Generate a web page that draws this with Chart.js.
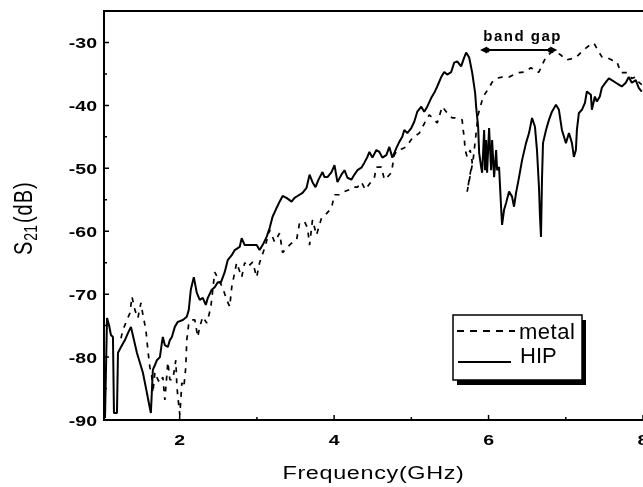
<!DOCTYPE html>
<html>
<head>
<meta charset="utf-8">
<script src="https://cdn.jsdelivr.net/npm/chart.js@4.4.1/dist/chart.umd.min.js"></script>
<style>
  html, body { margin: 0; padding: 0; background: #fff; }
</style>
</head>
<body>
<canvas id="s21Chart" width="643" height="487"></canvas>
<script>
// HIP (solid) S21 trace, GHz / dB
const hipFreq = [1.033,1.059,1.085,1.110,1.136,1.149,1.188,1.201,1.240,1.291,
  1.330,1.369,1.408,1.446,1.485,1.524,1.550,1.576,1.601,1.627,
  1.653,1.679,1.705,1.744,1.769,1.782,1.808,1.847,1.873,1.899,
  1.937,1.976,2.041,2.092,2.118,2.144,2.183,2.222,2.260,2.299,
  2.338,2.364,2.415,2.454,2.493,2.532,2.583,2.622,2.674,2.713,
  2.777,2.803,2.842,2.906,2.997,3.035,3.074,3.126,3.165,3.203,
  3.255,3.294,3.333,3.384,3.449,3.488,3.526,3.591,3.643,3.682,
  3.720,3.759,3.798,3.850,3.875,3.914,3.966,4.005,4.043,4.095,
  4.134,4.173,4.224,4.263,4.302,4.353,4.392,4.431,4.457,4.496,
  4.547,4.586,4.625,4.676,4.715,4.754,4.806,4.844,4.883,4.909,
  4.948,4.999,5.038,5.077,5.129,5.167,5.206,5.258,5.297,5.335,
  5.387,5.426,5.464,5.516,5.555,5.594,5.645,5.684,5.710,5.749,
  5.788,5.826,5.839,5.865,5.878,5.904,5.917,5.943,5.955,5.968,
  5.981,6.007,6.033,6.046,6.072,6.098,6.111,6.136,6.162,6.175,
  6.201,6.227,6.266,6.304,6.330,6.356,6.395,6.434,6.485,6.524,
  6.563,6.601,6.627,6.653,6.666,6.679,6.692,6.705,6.744,6.782,
  6.821,6.873,6.911,6.950,7.002,7.041,7.080,7.105,7.131,7.144,
  7.170,7.209,7.248,7.273,7.325,7.338,7.377,7.403,7.441,7.467,
  7.519,7.558,7.596,7.648,7.687,7.725,7.777,7.816,7.855,7.906,
  7.945,7.984];
const hipS21 = [-89.7,-73.8,-74.9,-76.5,-76.8,-88.9,-88.9,-79.3,-78.4,-77.3,
  -76.2,-75.2,-77.3,-79.3,-80.9,-82.5,-84.1,-85.7,-87.3,-88.9,
  -82.0,-81.3,-80.5,-80.0,-77.8,-76.8,-78.1,-78.4,-77.3,-76.8,
  -75.2,-74.4,-74.1,-73.6,-72.5,-69.3,-67.3,-69.8,-70.9,-70.6,
  -71.7,-70.6,-69.3,-68.9,-68.1,-68.2,-66.5,-64.6,-63.8,-63.0,
  -62.5,-61.1,-62.2,-62.2,-62.2,-63.0,-62.2,-60.9,-59.5,-57.7,
  -56.3,-55.3,-54.4,-54.7,-55.3,-54.7,-54.4,-53.9,-53.1,-51.0,
  -52.2,-53.0,-51.8,-50.6,-51.4,-51.4,-50.6,-49.5,-52.2,-51.0,
  -50.3,-51.5,-51.8,-51.0,-50.3,-49.9,-49.1,-48.2,-47.4,-48.3,
  -47.1,-47.4,-48.3,-47.9,-46.6,-48.3,-46.8,-45.8,-45.0,-43.9,
  -44.4,-43.6,-42.6,-41.0,-40.2,-41.0,-40.2,-38.8,-38.0,-37.0,
  -35.5,-34.7,-35.1,-34.7,-33.2,-33.0,-33.8,-32.4,-31.6,-32.4,
  -34.8,-38.0,-40.2,-43.4,-47.5,-49.8,-50.7,-43.9,-50.3,-45.5,
  -50.7,-43.6,-50.3,-45.5,-51.4,-47.1,-50.3,-49.8,-56.1,-59.0,
  -56.6,-55.5,-53.7,-54.5,-56.1,-53.9,-51.4,-48.7,-46.0,-44.4,
  -42.0,-43.4,-47.1,-53.0,-57.7,-60.9,-51.8,-46.0,-43.9,-42.3,
  -41.0,-39.9,-40.7,-43.9,-46.0,-44.4,-46.0,-48.2,-47.1,-43.9,
  -41.2,-40.7,-39.6,-37.8,-38.3,-40.7,-38.6,-39.4,-38.6,-37.2,
  -36.3,-35.7,-36.0,-36.4,-36.7,-37.0,-36.4,-35.5,-36.4,-36.0,
  -37.2,-37.8];

// metal (dashed) S21 trace
const metalFreq = [1.240,1.265,1.317,1.356,1.382,1.420,1.459,1.498,1.524,1.563,
  1.588,1.614,1.640,1.653,1.679,1.718,1.744,1.782,1.808,1.847,
  1.873,1.911,1.950,1.963,1.976,2.002,2.028,2.054,2.079,2.092,
  2.118,2.157,2.196,2.234,2.260,2.299,2.351,2.402,2.454,2.506,
  2.557,2.609,2.648,2.674,2.713,2.738,2.803,2.842,2.880,2.945,
  2.997,3.035,3.100,3.165,3.229,3.294,3.333,3.397,3.449,3.514,
  3.552,3.617,3.656,3.682,3.720,3.772,3.837,3.901,3.966,4.005,
  4.069,4.134,4.198,4.237,4.302,4.353,4.405,4.457,4.521,4.547,
  4.612,4.651,4.689,4.741,4.780,4.818,4.883,4.935,5.012,5.103,
  5.193,5.232,5.284,5.335,5.400,5.464,5.529,5.594,5.658,5.671,
  5.684,5.697,5.723,5.762,5.788,5.749,5.723,5.800,5.865,5.930,
  6.007,6.046,6.098,6.175,6.266,6.330,6.395,6.472,6.550,6.614,
  6.653,6.692,6.744,6.808,6.873,6.937,7.002,7.067,7.131,7.196,
  7.260,7.312,7.364,7.415,7.467,7.532,7.596,7.661,7.713,7.790,
  7.855,7.906,7.945,7.984];
const metalS21 = [-77.0,-75.7,-74.1,-73.0,-70.4,-72.5,-73.8,-71.4,-73.3,-75.7,
  -78.9,-81.6,-83.2,-85.7,-82.4,-83.6,-84.1,-83.2,-86.8,-80.8,
  -83.6,-83.6,-80.5,-84.4,-86.3,-89.2,-84.1,-84.8,-81.6,-77.3,
  -74.6,-74.1,-74.1,-76.8,-75.2,-73.6,-74.6,-72.2,-66.5,-67.7,
  -69.0,-70.9,-72.0,-68.9,-66.5,-65.0,-67.3,-65.0,-65.7,-64.9,
  -67.3,-65.0,-62.7,-59.8,-61.7,-60.3,-63.4,-62.5,-61.9,-61.4,
  -58.7,-58.5,-59.5,-62.2,-58.2,-60.6,-57.9,-57.2,-56.3,-54.2,
  -54.2,-53.7,-53.4,-53.0,-53.0,-52.2,-53.4,-52.5,-51.5,-49.8,
  -49.8,-51.8,-51.4,-50.7,-47.9,-47.1,-46.9,-46.6,-45.2,-44.4,
  -42.3,-41.5,-42.1,-42.8,-40.2,-41.2,-42.0,-42.0,-42.3,-43.9,
  -45.0,-47.1,-48.2,-47.1,-49.0,-51.8,-53.7,-48.7,-41.5,-38.6,
  -37.2,-36.3,-35.7,-35.5,-35.5,-35.1,-34.8,-34.7,-34.0,-34.7,
  -34.7,-33.6,-32.3,-31.6,-31.5,-32.0,-32.8,-32.6,-32.4,-31.6,
  -30.9,-30.4,-30.1,-31.2,-32.3,-32.4,-32.8,-33.0,-34.8,-34.8,
  -35.7,-35.5,-36.3,-36.7];

const xTicks = [2, 4, 6, 8];
const xMinorTicks = [3, 5, 7];
const yTicks = [-90, -80, -70, -60, -50, -40, -30];
const yMinorTicks = [-85, -75, -65, -55, -45, -35];
const bandGap = [5.89, 6.89];   // GHz, ends of the arrow
const bandGapLevel = -31.2;     // dB
const seriesNames = ['metal', 'HIP'];

// text drawn with a horizontal stretch, like the scanned figure
function putText(ctx, text, x, y, o) {
    ctx.save();
    ctx.translate(x, y);
    if (o.rotate) ctx.rotate(o.rotate);
    ctx.scale(o.sx || 1, o.sy || 1);
    ctx.font = o.font;
    ctx.fillStyle = '#000';
    ctx.textAlign = o.align || 'left';
    ctx.textBaseline = o.baseline || 'alphabetic';
    ctx.letterSpacing = o.spacing || '0px';
    ctx.fillText(text, 0, 0);
    const w = ctx.measureText(text).width;
    ctx.restore();
    return w;
}

const figurePlugin = {
    id: 'figure',
    afterDraw(chart) {
        const { ctx, chartArea: a, scales: { x, y } } = chart;
        ctx.save();
        ctx.strokeStyle = '#000';
        ctx.fillStyle = '#000';

        // frame (right side runs off the page)
        ctx.lineWidth = 2;
        ctx.beginPath();
        ctx.moveTo(a.right + 2, a.top);
        ctx.lineTo(a.left, a.top);
        ctx.lineTo(a.left, a.bottom);
        ctx.lineTo(a.right + 2, a.bottom);
        ctx.stroke();

        // inward ticks
        ctx.lineWidth = 1.5;
        ctx.beginPath();
        yTicks.forEach(v => { const p = y.getPixelForValue(v); ctx.moveTo(a.left, p); ctx.lineTo(a.left + 5, p); });
        yMinorTicks.forEach(v => { const p = y.getPixelForValue(v); ctx.moveTo(a.left, p); ctx.lineTo(a.left + 3, p); });
        xTicks.forEach(v => { const p = x.getPixelForValue(v); ctx.moveTo(p, a.bottom); ctx.lineTo(p, a.bottom - 5); });
        xMinorTicks.forEach(v => { const p = x.getPixelForValue(v); ctx.moveTo(p, a.bottom); ctx.lineTo(p, a.bottom - 3); });
        ctx.stroke();

        // tick labels
        const tickFont = 'bold 15px "Liberation Sans"';
        yTicks.forEach(v => {
            putText(ctx, String(v), a.left - 7, y.getPixelForValue(v) + 6, { font: tickFont, align: 'right', sx: 1.3 });
        });
        xTicks.forEach(v => {
            putText(ctx, String(v), x.getPixelForValue(v), a.bottom + 25, { font: tickFont, align: 'center', sx: 1.3 });
        });

        // axis titles
        putText(ctx, 'Frequency(GHz)', (a.left + a.right) / 2, 479, { font: '18px "Liberation Sans"', align: 'center', sx: 1.3, spacing: '0.5px' });
        const rot = { rotate: -Math.PI / 2, sy: 1.33 };
        const bx = 32, by = 255;
        const wS = putText(ctx, 'S', bx, by, { ...rot, font: '20px "Liberation Sans"' });
        const w21 = putText(ctx, '21', bx + 5, by - wS - 1, { ...rot, font: '14px "Liberation Sans"' });
        putText(ctx, '(dB)', bx, by - wS - w21 - 3, { ...rot, font: '20px "Liberation Sans"', spacing: '1px' });

        // band gap arrow
        const gx0 = x.getPixelForValue(bandGap[0]);
        const gx1 = x.getPixelForValue(bandGap[1]);
        const gy = y.getPixelForValue(bandGapLevel);
        ctx.lineWidth = 2;
        ctx.beginPath();
        ctx.moveTo(gx0 + 4, gy);
        ctx.lineTo(gx1 - 4, gy);
        ctx.stroke();
        ctx.beginPath();
        ctx.moveTo(gx0, gy); ctx.lineTo(gx0 + 7, gy - 3.5); ctx.lineTo(gx0 + 7, gy + 3.5); ctx.closePath();
        ctx.moveTo(gx1, gy); ctx.lineTo(gx1 - 7, gy - 3.5); ctx.lineTo(gx1 - 7, gy + 3.5); ctx.closePath();
        ctx.fill();
        ctx.beginPath();
        ctx.arc(gx0 + 7, gy, 2.6, 0, Math.PI * 2);
        ctx.arc(gx1 - 7, gy, 2.6, 0, Math.PI * 2);
        ctx.fill();
        putText(ctx, 'band gap', (gx0 + gx1) / 2 + 4, gy - 9, { font: 'bold 15px "Liberation Sans"', align: 'center', spacing: '1.5px' });

        // legend box with drop shadow
        const lx = 453, ly = 315, lw = 129, lh = 65;
        ctx.fillRect(lx + 4, ly + 5, lw, lh);
        ctx.fillStyle = '#fff';
        ctx.fillRect(lx, ly, lw, lh);
        ctx.lineWidth = 1.5;
        ctx.strokeRect(lx, ly, lw, lh);
        ctx.fillStyle = '#000';
        ctx.lineWidth = 1.8;
        ctx.setLineDash([7, 6]);
        ctx.beginPath(); ctx.moveTo(lx + 4, ly + 16); ctx.lineTo(lx + 62, ly + 16); ctx.stroke();
        ctx.setLineDash([]);
        ctx.lineWidth = 2;
        ctx.beginPath(); ctx.moveTo(lx + 5, ly + 47); ctx.lineTo(lx + 58, ly + 47); ctx.stroke();
        putText(ctx, seriesNames[0], lx + 66, ly + 24, { font: '22px "Liberation Sans"', spacing: '0.5px' });
        putText(ctx, seriesNames[1], lx + 67, ly + 48, { font: '22px "Liberation Sans"' });

        ctx.restore();
    }
};

const ctx = document.getElementById('s21Chart').getContext('2d');
new Chart(ctx, {
    type: 'line',
    data: {
        datasets: [
            {
                label: seriesNames[0],
                data: metalFreq.map((f, i) => ({ x: f, y: metalS21[i] })),
                borderColor: '#000',
                borderWidth: 1.7,
                borderDash: [5, 6],
                pointRadius: 0,
                tension: 0,
                borderJoinStyle: 'bevel'
            },
            {
                label: seriesNames[1],
                data: hipFreq.map((f, i) => ({ x: f, y: hipS21[i] })),
                borderColor: '#000',
                borderWidth: 2,
                pointRadius: 0,
                tension: 0,
                borderJoinStyle: 'bevel'
            }
        ]
    },
    options: {
        responsive: false,
        animation: false,
        devicePixelRatio: 1,
        layout: { padding: { top: 11, right: 0, bottom: 0, left: 0 } },
        scales: {
            x: {
                type: 'linear',
                min: 1.02,
                max: 8.0,
                grid: { display: false, drawTicks: false },
                border: { display: false },
                ticks: { display: false },
                afterBuildTicks: s => { s.ticks = xTicks.map(v => ({ value: v })); },
                afterFit: s => { s.height = 67; s.paddingLeft = 0; s.paddingRight = 0; }
            },
            y: {
                type: 'linear',
                min: -90,
                max: -25,
                grid: { display: false, drawTicks: false },
                border: { display: false },
                ticks: { display: false },
                afterBuildTicks: s => { s.ticks = yTicks.map(v => ({ value: v })); },
                afterFit: s => { s.width = 104; s.paddingTop = 0; s.paddingBottom = 0; }
            }
        },
        plugins: {
            legend: { display: false },
            tooltip: { enabled: false }
        }
    },
    plugins: [figurePlugin]
});
</script>
</body>
</html>
